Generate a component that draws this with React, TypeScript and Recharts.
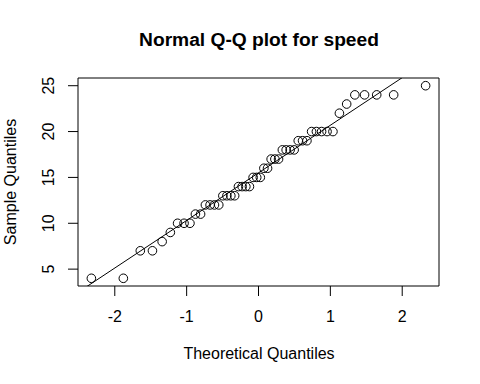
import React from "react"
import {
  ScatterChart,
  Scatter,
  XAxis,
  YAxis,
  ReferenceLine,
  ReferenceArea,
} from "recharts"

// sorted sample (cars$speed)
const speeds = [
  4, 4, 7, 7, 8, 9, 10, 10, 10, 11, 11, 12, 12, 12, 12, 13, 13, 13, 13, 14, 14, 14, 14, 15, 15,
  15, 16, 16, 17, 17, 17, 18, 18, 18, 18, 19, 19, 19, 20, 20, 20, 20, 20, 22, 23, 24, 24, 24, 24, 25,
]

// theoretical normal quantiles, one per sample point
const theoretical = [
  -2.326, -1.881, -1.645, -1.476, -1.341, -1.227, -1.126, -1.036, -0.954, -0.878, -0.806, -0.739,
  -0.674, -0.613, -0.553, -0.496, -0.44, -0.385, -0.332, -0.279, -0.228, -0.176, -0.126, -0.075,
  -0.025, 0.025, 0.075, 0.126, 0.176, 0.228, 0.279, 0.332, 0.385, 0.44, 0.496, 0.553, 0.613, 0.674,
  0.739, 0.806, 0.878, 0.954, 1.036, 1.126, 1.227, 1.341, 1.476, 1.645, 1.881, 2.326,
]

const xTicks = [-2, -1, 0, 1, 2]
const yTicks = [5, 10, 15, 20, 25]

// qqline: through the quartiles
const lineIntercept = 15.5
const lineSlope = 5.189

const xDomain: [number, number] = [-2.512, 2.512]
const yDomain: [number, number] = [3.16, 25.84]

const FONT = '"Liberation Sans", Arial, Helvetica, sans-serif'

const points = theoretical.map((t, i) => ({ theo: t, speed: speeds[i] }))

const XTick = ({ x, y, payload }: any) => (
  <text
    x={x}
    y={y + 18}
    textAnchor="middle"
    fontSize={16}
    fontFamily={FONT}
    fill="#000"
    dominantBaseline="central"
  >
    {payload.value}
  </text>
)

const YTick = ({ x, y, payload }: any) => (
  <text
    x={x - 17}
    y={y}
    textAnchor="middle"
    fontSize={16}
    fontFamily={FONT}
    fill="#000"
    dominantBaseline="central"
    transform={`rotate(-90 ${x - 17} ${y})`}
  >
    {payload.value}
  </text>
)

const OpenCircle = ({ cx, cy }: any) => (
  <circle cx={cx} cy={cy} r={4.3} fill="none" stroke="#000" strokeWidth={1} />
)

export default function App() {
  return (
    <div style={{ position: "absolute", left: 0, top: 0, width: 480, height: 384, background: "#fff" }}>
      <ScatterChart width={480} height={384} margin={{ top: 78, right: 41, bottom: 68, left: 48 }}>
        <XAxis
          type="number"
          dataKey="theo"
          domain={xDomain}
          ticks={xTicks}
          height={30}
          axisLine={false}
          tickSize={10}
          tickMargin={2}
          tickLine={{ stroke: "#000" }}
          tick={<XTick />}
          allowDataOverflow
        />
        <YAxis
          type="number"
          dataKey="speed"
          domain={yDomain}
          ticks={yTicks}
          width={30}
          axisLine={false}
          tickSize={10}
          tickMargin={2}
          tickLine={{ stroke: "#000" }}
          tick={<YTick />}
          allowDataOverflow
        />
        <ReferenceArea
          x1={xDomain[0]}
          x2={xDomain[1]}
          y1={yDomain[0]}
          y2={yDomain[1]}
          fill="none"
          fillOpacity={0}
          stroke="#000"
          strokeOpacity={1}
          ifOverflow="visible"
        />
        <ReferenceLine
          segment={[
            { x: xDomain[0], y: lineIntercept + lineSlope * xDomain[0] },
            { x: xDomain[1], y: lineIntercept + lineSlope * xDomain[1] },
          ]}
          stroke="#000"
          strokeWidth={1}
          ifOverflow="hidden"
        />
        <Scatter data={points} shape={<OpenCircle />} isAnimationActive={false} />
      </ScatterChart>
      <svg
        width={480}
        height={384}
        style={{ position: "absolute", left: 0, top: 0, pointerEvents: "none" }}
      >
        <text
          x={259}
          y={46}
          textAnchor="middle"
          fontSize={19.2}
          fontWeight="bold"
          fontFamily={FONT}
          fill="#000"
        >
          Normal Q-Q plot for speed
        </text>
        <text
          x={259}
          y={359}
          textAnchor="middle"
          fontSize={16}
          fontFamily={FONT}
          fill="#000"
        >
          Theoretical Quantiles
        </text>
        <text
          x={16}
          y={182}
          textAnchor="middle"
          fontSize={16}
          fontFamily={FONT}
          fill="#000"
          transform="rotate(-90 16 182)"
        >
          Sample Quantiles
        </text>
      </svg>
    </div>
  )
}
